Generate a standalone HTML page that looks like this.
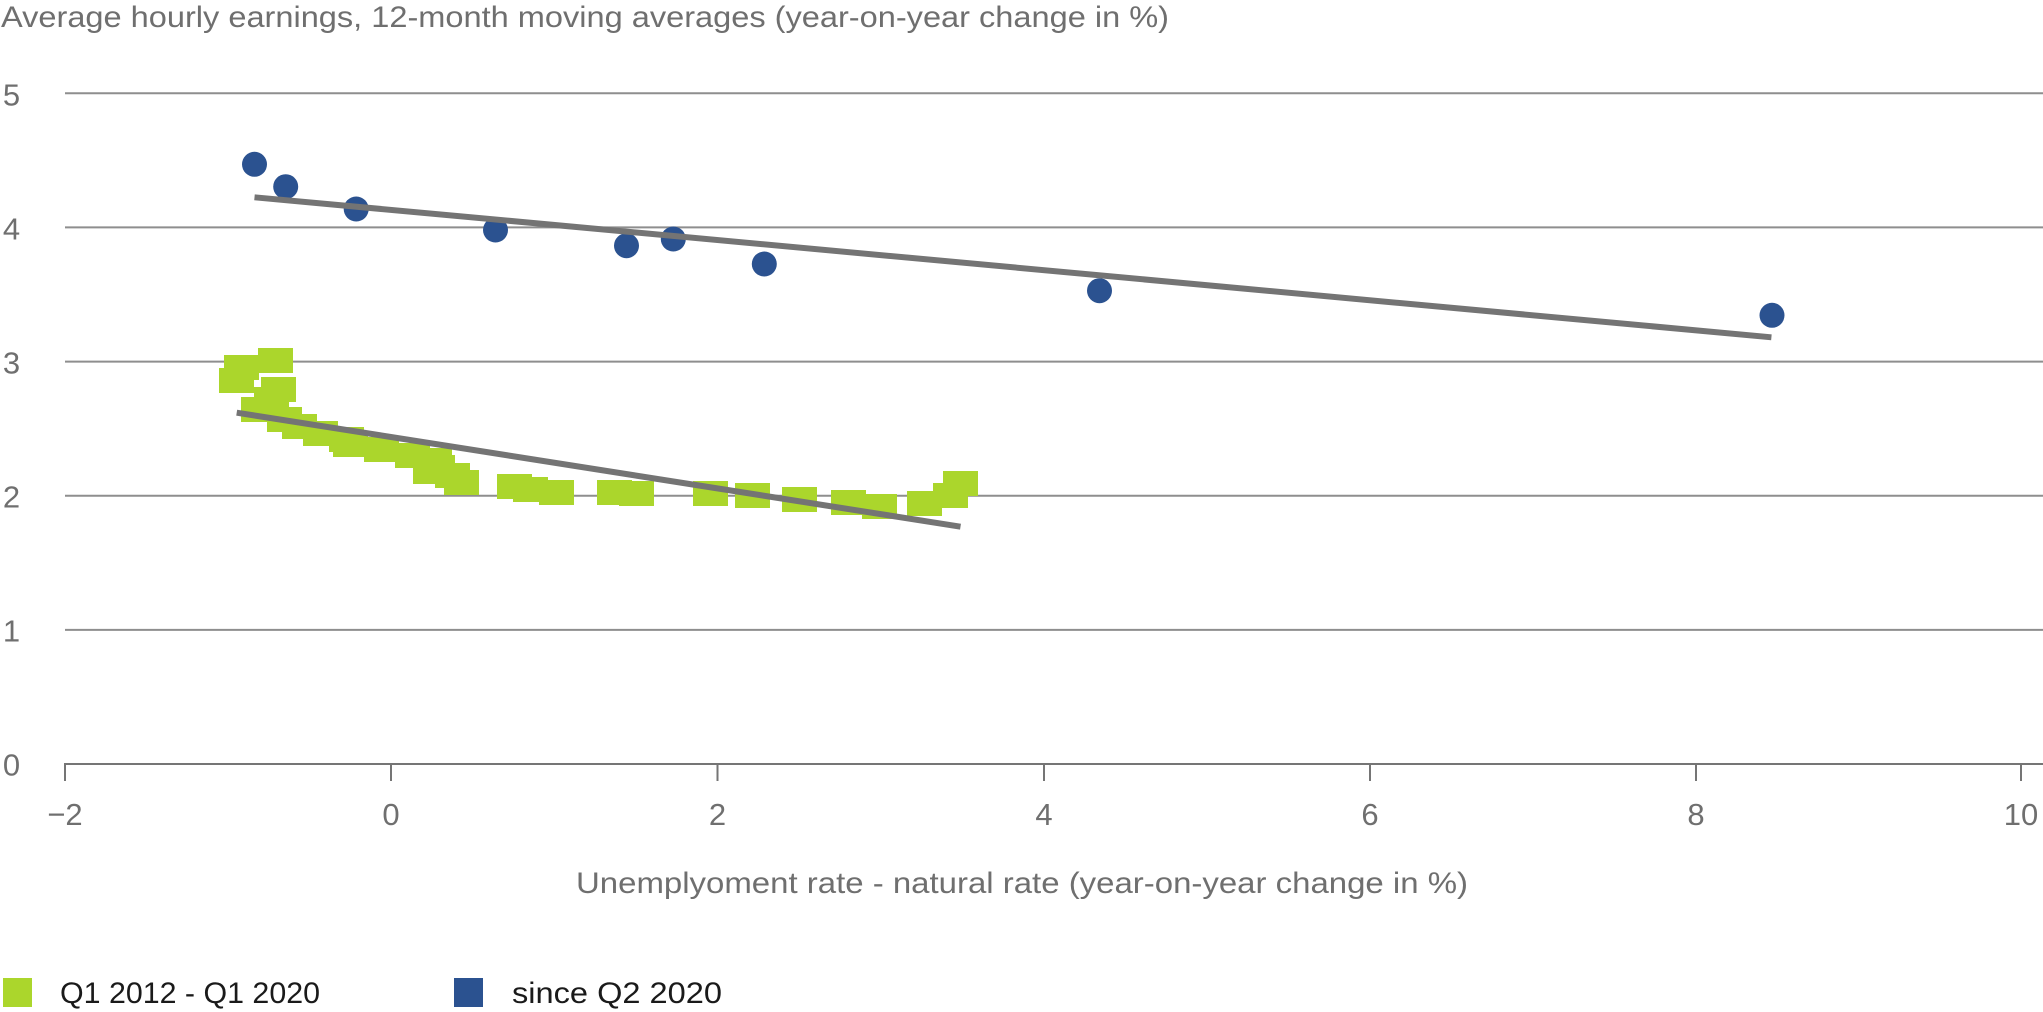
<!DOCTYPE html>
<html>
<head>
<meta charset="utf-8">
<style>
  html, body { margin:0; padding:0; background:#ffffff; }
  svg { display:block; }
  text { font-family: "Liberation Sans", "DejaVu Sans", sans-serif; }
</style>
</head>
<body>
<svg width="2043" height="1012" viewBox="0 0 2043 1012" xmlns="http://www.w3.org/2000/svg">
  <rect x="0" y="0" width="2043" height="1012" fill="#ffffff"/>

  <!-- Title -->
  <text x="1" y="27" font-size="30" fill="#6f6f6f" textLength="1168" lengthAdjust="spacingAndGlyphs">Average hourly earnings, 12-month moving averages (year-on-year change in %)</text>

  <!-- Gridlines -->
  <g stroke="#8e8e8e" stroke-width="2">
    <line x1="65" y1="93.3" x2="2043" y2="93.3"/>
    <line x1="65" y1="227.4" x2="2043" y2="227.4"/>
    <line x1="65" y1="361.6" x2="2043" y2="361.6"/>
    <line x1="65" y1="495.7" x2="2043" y2="495.7"/>
    <line x1="65" y1="629.9" x2="2043" y2="629.9"/>
  </g>
  <!-- X axis -->
  <g stroke="#757575" stroke-width="2">
    <line x1="64" y1="764" x2="2043" y2="764"/>
    <line x1="65" y1="764" x2="65" y2="781"/>
    <line x1="391" y1="764" x2="391" y2="781"/>
    <line x1="717.5" y1="764" x2="717.5" y2="781"/>
    <line x1="1044" y1="764" x2="1044" y2="781"/>
    <line x1="1370" y1="764" x2="1370" y2="781"/>
    <line x1="1696" y1="764" x2="1696" y2="781"/>
    <line x1="2021" y1="764" x2="2021" y2="781"/>
  </g>

  <!-- Y labels -->
  <g font-size="31" fill="#6f6f6f" text-anchor="middle">
    <text x="11.5" y="105.5">5</text>
    <text x="11.5" y="239.5">4</text>
    <text x="11.5" y="373.5">3</text>
    <text x="11.5" y="507.5">2</text>
    <text x="11.5" y="641.5">1</text>
    <text x="11.5" y="775.5">0</text>
  </g>
  <!-- X labels -->
  <g font-size="31" fill="#6f6f6f" text-anchor="middle">
    <text x="65" y="825">−2</text>
    <text x="391" y="825">0</text>
    <text x="717.5" y="825">2</text>
    <text x="1044" y="825">4</text>
    <text x="1370" y="825">6</text>
    <text x="1696" y="825">8</text>
    <text x="2021" y="825">10</text>
  </g>

  <!-- X axis title -->
  <text x="576" y="893" font-size="30" fill="#6f6f6f" textLength="892" lengthAdjust="spacingAndGlyphs">Unemplyoment rate - natural rate (year-on-year change in %)</text>

  <!-- Green markers -->
  <g fill="#abd62c">
    <rect x="219" y="368" width="35" height="25"/>
    <rect x="224" y="355" width="35" height="25"/>
    <rect x="258" y="348" width="35" height="25"/>
    <rect x="261" y="377" width="35" height="25"/>
    <rect x="254" y="387" width="35" height="25"/>
    <rect x="241" y="397" width="35" height="25"/>
    <rect x="267" y="407" width="35" height="25"/>
    <rect x="282" y="414" width="35" height="25"/>
    <rect x="303" y="421" width="35" height="25"/>
    <rect x="329" y="427" width="35" height="25"/>
    <rect x="333" y="432" width="35" height="25"/>
    <rect x="364" y="437" width="35" height="25"/>
    <rect x="395" y="443" width="35" height="25"/>
    <rect x="417" y="448" width="35" height="25"/>
    <rect x="420" y="455" width="35" height="25"/>
    <rect x="413" y="459" width="35" height="25"/>
    <rect x="435" y="463" width="35" height="25"/>
    <rect x="444" y="470" width="35" height="25"/>
    <rect x="497" y="474" width="35" height="25"/>
    <rect x="513" y="477" width="35" height="25"/>
    <rect x="539" y="480" width="35" height="25"/>
    <rect x="597" y="480" width="35" height="25"/>
    <rect x="619" y="481" width="35" height="25"/>
    <rect x="693" y="481" width="35" height="25"/>
    <rect x="735" y="483" width="35" height="25"/>
    <rect x="782" y="487" width="35" height="25"/>
    <rect x="831" y="490" width="35" height="25"/>
    <rect x="862" y="494" width="35" height="25"/>
    <rect x="907" y="491" width="35" height="25"/>
    <rect x="933" y="483" width="35" height="25"/>
    <rect x="943" y="471" width="35" height="25"/>
  </g>

  <!-- Blue markers -->
  <g fill="#2b5290">
    <circle cx="254.5" cy="164.3" r="12.5"/>
    <circle cx="285.7" cy="186.7" r="12.5"/>
    <circle cx="356.2" cy="209" r="12.5"/>
    <circle cx="495.5" cy="230" r="12.5"/>
    <circle cx="626.5" cy="245.7" r="12.5"/>
    <circle cx="673.3" cy="239" r="12.5"/>
    <circle cx="764.3" cy="264" r="12.5"/>
    <circle cx="1099.5" cy="290.7" r="12.5"/>
    <circle cx="1772" cy="315.3" r="12.5"/>
  </g>

  <!-- Trend lines -->
  <g stroke="#747474" stroke-width="6" stroke-linecap="butt">
    <line x1="236.7" y1="412.7" x2="960.5" y2="526.7"/>
    <line x1="254.5" y1="197.3" x2="1771.4" y2="337.3"/>
  </g>

  <!-- Legend -->
  <rect x="3" y="978" width="29" height="29" fill="#abd62c"/>
  <text x="60" y="1003" font-size="30" fill="#1a1a1a" textLength="260" lengthAdjust="spacingAndGlyphs">Q1 2012 - Q1 2020</text>
  <rect x="454" y="978" width="29" height="29" fill="#2b5290"/>
  <text x="512" y="1003" font-size="30" fill="#1a1a1a" textLength="210" lengthAdjust="spacingAndGlyphs">since Q2 2020</text>
</svg>
</body>
</html>
